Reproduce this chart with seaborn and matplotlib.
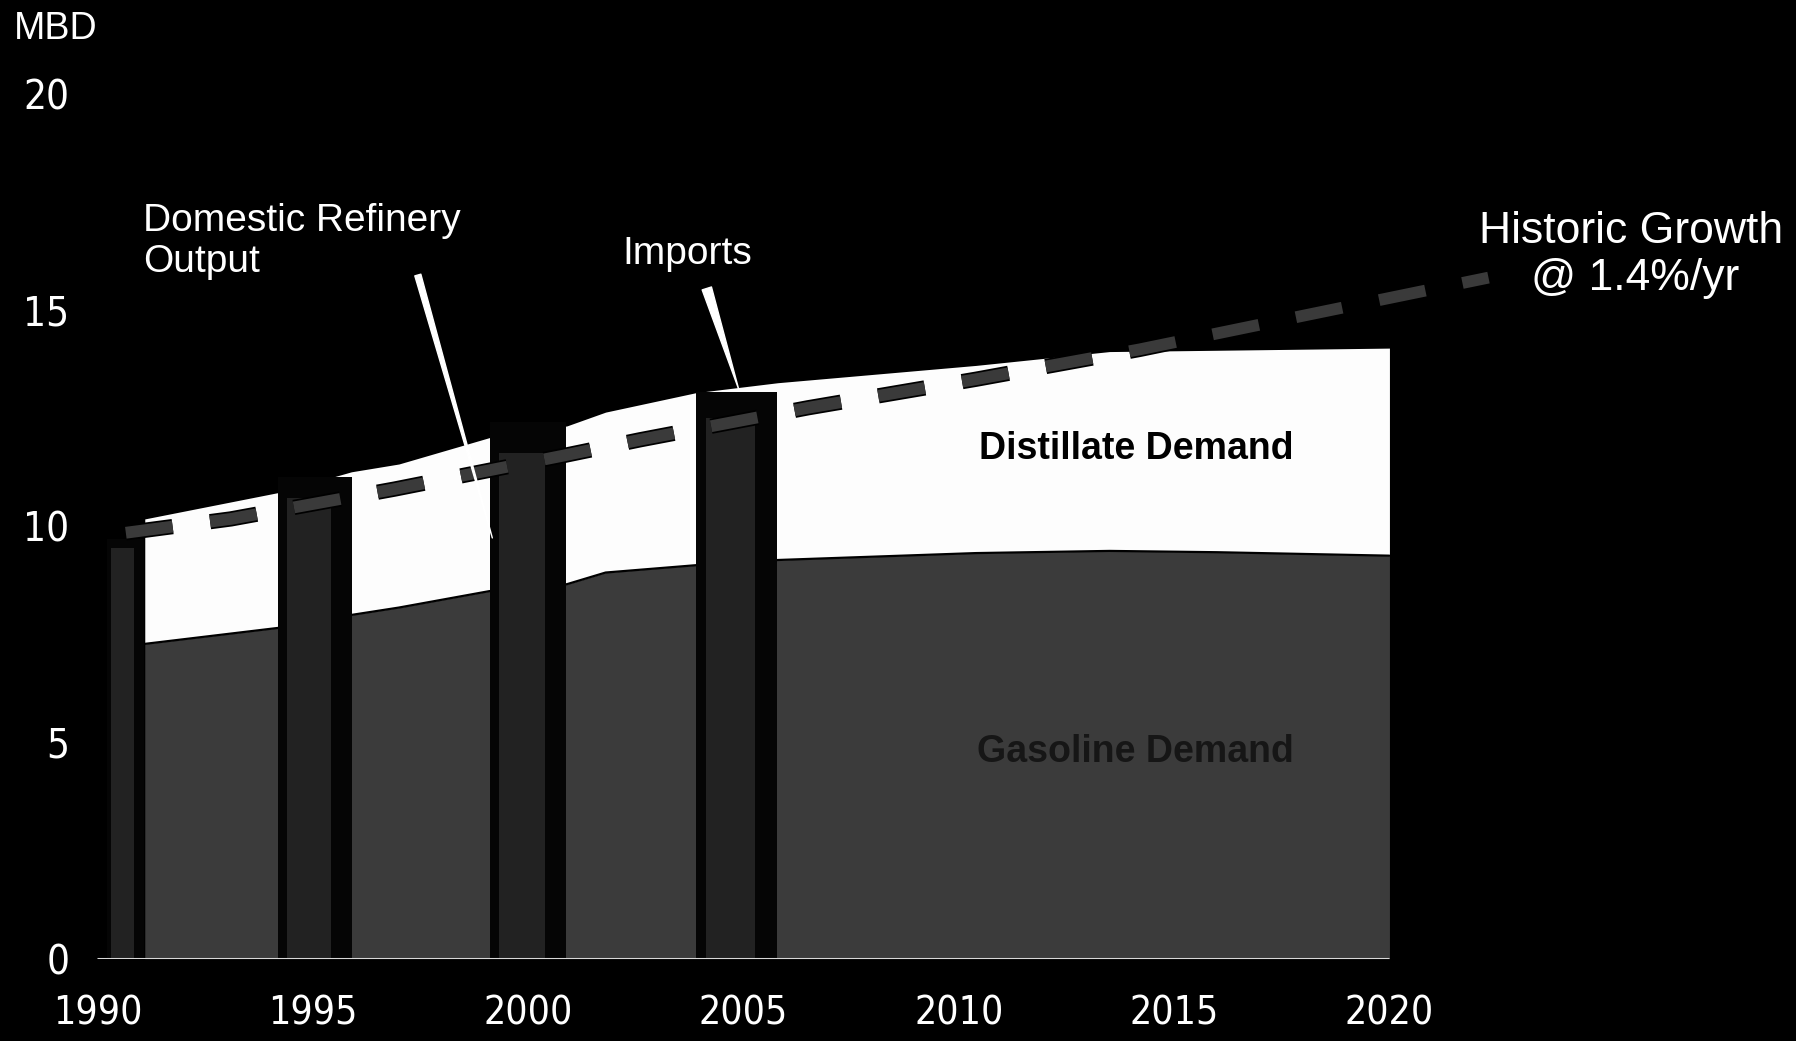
import matplotlib
matplotlib.use("Agg")
import matplotlib.pyplot as plt
import matplotlib.patheffects as pe
import numpy as np
import pandas as pd
import seaborn as sns

# ---- data (million barrels per day) ----
area_years = [1991.1, 1994.2, 1995.9, 1997.0, 1999.1, 2000.9, 2001.8,
              2003.9, 2005.8, 2010.4, 2013.5, 2016.0, 2020.0]
gasoline_demand = [7.28, 7.65, 7.95, 8.12, 8.5, 8.66, 8.93,
                   9.1, 9.22, 9.38, 9.43, 9.40, 9.32]
distillate_demand = [2.89, 3.13, 3.31, 3.32, 3.55, 3.66, 3.71,
                     3.99, 4.10, 4.34, 4.61, 4.67, 4.80]

bar_years = [1990.65, 1995.05, 2000.0, 2004.85]
refinery_output = [9.5, 10.65, 11.7, 12.5]
imports = [0.2, 0.5, 0.7, 0.6]

growth_years = [1990.66, 1993.1, 1996.9, 2000.8, 2002.6, 2006.5, 2010.4,
                2014.2, 2018.1, 2022.3]
historic_growth = [9.85, 10.17, 10.86, 11.63, 12.0, 12.74, 13.40,
                   14.09, 14.89, 15.75]

x_ticks = [1990, 1995, 2000, 2005, 2010, 2015, 2020]
y_ticks = [0, 5, 10, 15, 20]

# ---- style ----
sns.set_theme(style="dark", rc={
    "figure.facecolor": "black",
    "axes.facecolor": "black",
    "axes.edgecolor": "black",
    "text.color": "white",
    "xtick.color": "white",
    "ytick.color": "white",
})
plt.rcParams["font.family"] = ["Liberation Sans", "DejaVu Sans"]
narrow = ["DejaVu Sans"]

W, H, DPI = 1796, 1041, 100
fig = plt.figure(figsize=(W / DPI, H / DPI), dpi=DPI)
x0_px, y0_px = 97.4, 958.7
ax = fig.add_axes([x0_px / W, (H - y0_px) / H, 1 - x0_px / W, y0_px / H])
ax.set_xlim(1990, 2029.44)
ax.set_ylim(0, 22.17)
for s in ax.spines.values():
    s.set_visible(False)
ax.grid(False)

# stacked demand areas
df = pd.DataFrame({"year": area_years, "gasoline": gasoline_demand,
                   "distillate": distillate_demand})
df["total"] = df["gasoline"] + df["distillate"]
ax.fill_between(df["year"], 0, df["gasoline"], color="#3b3b3b", lw=0, zorder=1)
ax.fill_between(df["year"], df["gasoline"], df["total"], color="#fdfdfd", lw=0, zorder=1)
ax.plot(df["year"], df["gasoline"], color="black", lw=1.6, zorder=2)

# supply bars: imports stacked on refinery output
widths = np.array([0.86, 1.72, 1.77, 1.88])
bx = np.array(bar_years)
totals = np.array(refinery_output) + np.array(imports)
ax.bar(bx, totals, width=widths, color="#050505", lw=0, zorder=3)
ax.bar(bx - 0.08 * widths, refinery_output, width=0.6 * widths,
       color="#222222", lw=0, zorder=4)

# historic growth trend
sns.lineplot(x=growth_years, y=historic_growth, ax=ax, color="#3a3a3a",
             lw=8.5, zorder=5, sort=True)
line = ax.lines[-1]
line.set_linestyle((0, (4.0, 3.2)))
line.set_dash_capstyle("butt")
line.set_path_effects([pe.Stroke(linewidth=11, foreground="black"), pe.Normal()])

# baseline
ax.hlines(0, 1990, 2020, color="#d8d8d8", lw=2.2, zorder=6)

# ticks
ax.set_xticks(x_ticks)
ax.set_xticklabels([str(v) for v in x_ticks], family=narrow,
                   fontstretch="condensed", fontsize=28)
ax.set_yticks(y_ticks)
ax.set_yticklabels([str(v) for v in y_ticks], family=narrow,
                   fontstretch="condensed", fontsize=29)
ax.tick_params(axis="x", length=0, pad=26)
ax.tick_params(axis="y", length=0, pad=20)

# labels
fig.text(14 / W, 1 - 29 / H, "MBD", fontsize=27, color="white", va="center", ha="left")
ax.text(1991.06, 17.06, "Domestic Refinery", fontsize=28, color="white",
        va="center", ha="left")
ax.text(1991.06, 16.11, "Output", fontsize=28, color="white", va="center", ha="left")
ax.text(2002.18, 16.29, "Imports", fontsize=28, color="white", va="center", ha="left")
ax.text(2025.6, 16.82, "Historic Growth", fontsize=32, color="white",
        va="center", ha="center", clip_on=False)
ax.text(2025.7, 15.72, "@ 1.4%/yr", fontsize=32, color="white",
        va="center", ha="center", clip_on=False)
ax.text(2014.11, 11.79, "Distillate Demand", fontsize=27, fontweight="bold",
        color="black", va="center", ha="center", zorder=7)
ax.text(2014.11, 4.78, "Gasoline Demand", fontsize=27, fontweight="bold",
        color="#161616", va="center", ha="center", zorder=7)

# pointers
ax.annotate("", xy=(1999.17, 9.73), xytext=(1997.44, 15.81),
            arrowprops=dict(arrowstyle="wedge,tail_width=0.45", color="white",
                            shrinkA=0, shrinkB=0, mutation_scale=10), zorder=8)
ax.annotate("", xy=(2004.89, 13.17), xytext=(2004.15, 15.5),
            arrowprops=dict(arrowstyle="wedge,tail_width=0.7", color="white",
                            shrinkA=0, shrinkB=0, mutation_scale=10), zorder=8)

fig.savefig("out.png", dpi=DPI, facecolor="black")
